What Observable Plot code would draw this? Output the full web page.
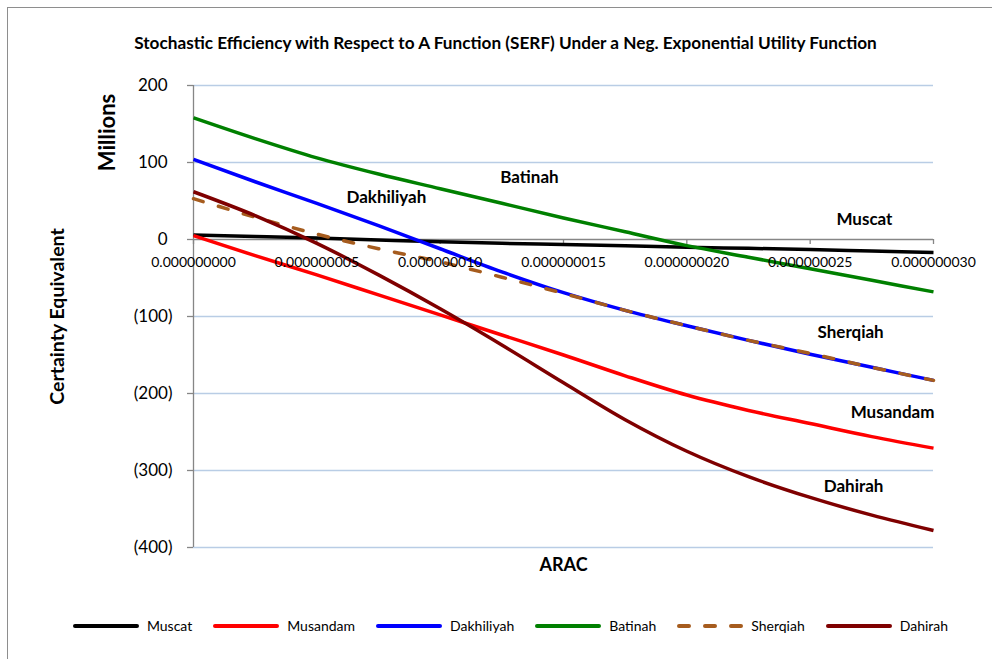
<!DOCTYPE html>
<html>
<head>
<meta charset="utf-8">
<script src="https://cdn.jsdelivr.net/npm/d3@7"></script>
<script src="https://cdn.jsdelivr.net/npm/@observablehq/plot@0.6"></script>
<style>
  html, body { margin: 0; padding: 0; background: #fff; }
  body { width: 992px; height: 659px; overflow: hidden; position: relative; font-family: Lato, "Open Sans", sans-serif; }
  #frame { position: absolute; left: 7px; top: 7px; width: 1100px; height: 800px; border: 1px solid #8e8e8e; box-sizing: border-box; }
  #title { position: absolute; top: 32px; left: 0; width: 1011px; text-align: center; font-weight: bold; font-size: 17.2px; color: #000; white-space: nowrap; }
  #chart { position: absolute; left: 0; top: 70px; }
  #legend { position: absolute; top: 617px; left: 0; width: 1020px; display: flex; justify-content: center; align-items: center; font-size: 14px; color: #000; }
  .item { display: flex; align-items: center; margin: 0 10px; }
  .item svg { margin-right: 7px; }
</style>
</head>
<body>
<div id="frame"></div>
<div id="title">Stochastic Efficiency with Respect to A Function (SERF) Under a Neg. Exponential Utility Function</div>
<div id="chart"></div>
<div id="legend"></div>
<script>
// ---- data ----
const arac = [0, 2.5e-9, 5e-9, 7.5e-9, 1e-8, 1.25e-8, 1.5e-8, 1.75e-8, 2e-8, 2.25e-8, 2.5e-8, 2.75e-8, 3e-8];
const seriesNames = ["Muscat", "Musandam", "Dakhiliyah", "Batinah", "Sherqiah", "Dahirah"];
const muscat     = [6, 4, 2, -0.5, -3, -5, -6.5, -8, -10, -11.5, -13, -15, -17];
const musandam   = [5, -21, -46, -72, -98, -124, -150, -177, -202, -222, -239, -256, -271];
const dakhiliyah = [104, 75, 47, 18, -12, -42, -69, -92, -112, -131, -149, -166, -183];
const batinah    = [158, 131, 106, 85, 66, 47, 28, 10, -8, -23, -38, -53, -68];
const sherqiah   = [53, 29, 7, -12, -29, -49, -70, -92, -112, -131, -148, -166, -183];
const dahirah    = [62, 31, -5, -46, -90, -137, -186, -234, -275, -308, -335, -358, -378];
const yTicks = [200, 100, 0, -100, -200, -300, -400];
const yTickLabels = ["200", "100", "0", "(100)", "(200)", "(300)", "(400)"];
const xTicks = [0, 5e-9, 1e-8, 1.5e-8, 2e-8, 2.5e-8, 3e-8];
const xTickLabels = ["0.000000000", "0.000000005", "0.000000010", "0.000000015", "0.000000020", "0.000000025", "0.000000030"];
// in-chart series labels (data coordinates)
const labelNames = ["Dakhiliyah", "Batinah", "Muscat", "Sherqiah", "Musandam", "Dahirah"];
const labelX = [7.82e-9, 1.362e-8, 2.72e-8, 2.664e-8, 2.834e-8, 2.676e-8];
const labelY = [54.5, 80.5, 26, -121, -225, -321];

// ---- styles ----
const colors = {Muscat: "#000000", Musandam: "#ff0000", Dakhiliyah: "#0000ff", Batinah: "#008000", Sherqiah: "#a65c1e", Dahirah: "#7f0000"};
const dashes = {Sherqiah: "10,16"};
const gridColor = "#b9cde5";
const axisColor = "#868686";

const valuesBy = {Muscat: muscat, Musandam: musandam, Dakhiliyah: dakhiliyah, Batinah: batinah, Sherqiah: sherqiah, Dahirah: dahirah};
const rows = name => arac.map((a, i) => ({arac: a, value: valuesBy[name][i], series: name}));
const labels = labelNames.map((n, i) => ({name: n, x: labelX[i], y: labelY[i]}));

const lineMarks = seriesNames.map(name => Plot.line(rows(name), {
  x: "arac", y: "value", stroke: colors[name], strokeWidth: 3.5,
  strokeDasharray: dashes[name] || null,
  strokeLinecap: dashes[name] ? "round" : "butt",
  curve: "monotone-x"
}));

const chart = Plot.plot({
  width: 992,
  height: 530,
  marginTop: 15,
  marginBottom: 53,
  marginLeft: 193,
  marginRight: 59,
  x: {domain: [0, 3e-8], axis: null},
  y: {domain: [-400, 200], axis: null},
  style: {fontFamily: "Lato, 'Open Sans', sans-serif", overflow: "visible", background: "transparent"},
  marks: [
    Plot.ruleY(yTicks.filter(d => d !== 0), {stroke: gridColor, strokeWidth: 1.3}),
    Plot.ruleX([0], {stroke: axisColor, strokeWidth: 1.3}),
    Plot.ruleY(yTicks, {y: d => d, x1: 0, x2: 0, insetLeft: -6, stroke: axisColor, strokeWidth: 1.3}),
    Plot.ruleY([0], {stroke: axisColor, strokeWidth: 1.3}),
    Plot.ruleX(xTicks, {x: d => d, y1: 0, y2: 0, insetBottom: -5, stroke: axisColor, strokeWidth: 1.3}),
    ...lineMarks,
    Plot.text(xTicks, {x: d => d, y: 0, text: (d, i) => xTickLabels[i], dy: 23, fontSize: 14, fill: "#000"}),
    Plot.text(yTicks.filter(d => d >= 0), {x: 0, y: d => d, text: d => yTickLabels[yTicks.indexOf(d)], textAnchor: "end", dx: -26, fontSize: 17, fill: "#000"}),
    Plot.text(yTicks.filter(d => d < 0), {x: 0, y: d => d, text: d => yTickLabels[yTicks.indexOf(d)], textAnchor: "end", dx: -21, fontSize: 17, fill: "#000"}),
    Plot.text(labels, {x: "x", y: "y", text: "name", fontWeight: "bold", fontSize: 17, fill: "#000"}),
    Plot.text(["ARAC"], {frameAnchor: "bottom", text: d => d, dy: 18, textAnchor: "middle", lineAnchor: "middle", fontWeight: "bold", fontSize: 18, fill: "#000"}),
    Plot.text(["Certainty Equivalent"], {frameAnchor: "left", text: d => d, dx: -136, rotate: -90, textAnchor: "middle", lineAnchor: "middle", fontWeight: "bold", fontSize: 19.5, fill: "#000"}),
    Plot.text(["Millions"], {frameAnchor: "top-left", text: d => d, dx: -86, dy: 47, rotate: -90, textAnchor: "middle", lineAnchor: "middle", fontWeight: "bold", fontSize: 22, fill: "#000"})
  ]
});
document.getElementById("chart").appendChild(chart);

// ---- legend ----
const legend = document.getElementById("legend");
seriesNames.forEach(name => {
  const item = document.createElement("div");
  item.className = "item";
  const dash = dashes[name] ? `stroke-dasharray="10,16" stroke-linecap="round"` : `stroke-linecap="round"`;
  item.innerHTML = `<svg width="68" height="10"><line x1="3" y1="5" x2="65" y2="5" stroke="${colors[name]}" stroke-width="4" ${dash}/></svg><span>${name}</span>`;
  legend.appendChild(item);
});
</script>
</body>
</html>
